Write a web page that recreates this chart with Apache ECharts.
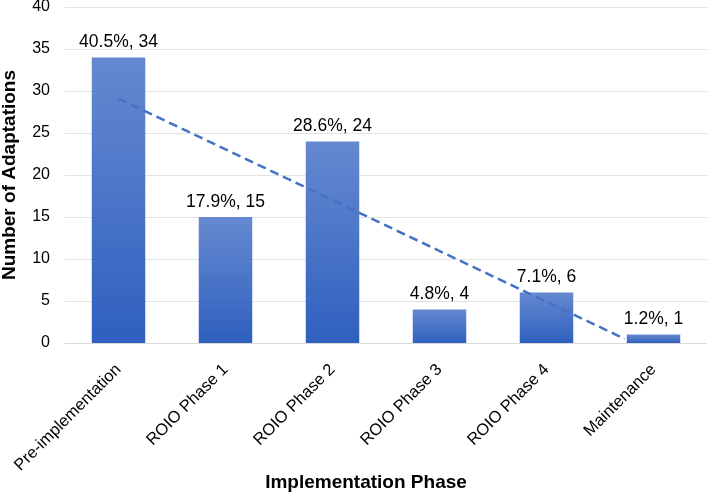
<!DOCTYPE html>
<html>
<head>
<meta charset="utf-8">
<script src="https://cdn.jsdelivr.net/npm/echarts@6/dist/echarts.min.js"></script>
<style>
  html, body { margin: 0; padding: 0; background: #fff; }
  #chart { width: 707px; height: 492px; }
</style>
</head>
<body>
<div id="chart"></div>
<script>
const phases = ["Pre-implementation", "ROIO Phase 1", "ROIO Phase 2", "ROIO Phase 3", "ROIO Phase 4", "Maintenance"];
const adaptations = [34, 15, 24, 4, 6, 1];
const shares = ["40.5%", "17.9%", "28.6%", "4.8%", "7.1%", "1.2%"];
// trendline endpoints, [category position, value]
const trendPoints = [[0, 29.1], [4.73, 0.5]];

const chart = echarts.init(document.getElementById("chart"));
const font = "Liberation Sans, Arial, sans-serif";

chart.setOption({
  animation: false,
  textStyle: { fontFamily: font },
  grid: { left: 65, right: 0, top: 7, bottom: 149, outerBoundsMode: "none", containLabel: false },
  xAxis: [
    {
      type: "category",
      data: phases,
      name: "Implementation Phase",
      nameLocation: "middle",
      nameGap: 130,
      nameMoveOverlap: false,
      nameTextStyle: { fontSize: 19, fontWeight: "bold", color: "#000", padding: [0, 40, 0, 0] },
      axisLine: { lineStyle: { color: "#D9D9D9" } },
      axisTick: { show: false },
      axisLabel: { rotate: 45, fontSize: 16.5, color: "#000", margin: 24, interval: 0 },
    },
    {
      type: "value",
      min: -0.5,
      max: 5.5,
      show: false,
    },
  ],
  yAxis: {
    type: "value",
    min: 0,
    max: 40,
    interval: 5,
    name: "Number of Adaptations",
    nameLocation: "middle",
    nameGap: 46,
    nameMoveOverlap: false,
    nameTextStyle: { fontSize: 19, fontWeight: "bold", color: "#000" },
    axisLine: { show: false },
    axisTick: { show: false },
    axisLabel: { fontSize: 16, color: "#000", margin: 15 },
    splitLine: { lineStyle: { color: "#E3E3E3" } },
  },
  series: [
    {
      type: "bar",
      data: adaptations,
      barWidth: "50%",
      itemStyle: {
        color: new echarts.graphic.LinearGradient(0, 0, 0, 1, [
          { offset: 0, color: "#6589D0" },
          { offset: 1, color: "#2F60BF" },
        ]),
      },
      label: {
        show: true,
        position: "top",
        distance: 6,
        fontSize: 17.5,
        color: "#000",
        formatter: (p) => `${shares[p.dataIndex]}, ${p.value}`,
      },
    },
    {
      type: "line",
      xAxisIndex: 1,
      data: trendPoints,
      showSymbol: false,
      silent: true,
      lineStyle: { color: "#4472C4", width: 2.5, type: [9, 5] },
    },
  ],
});
</script>
</body>
</html>
